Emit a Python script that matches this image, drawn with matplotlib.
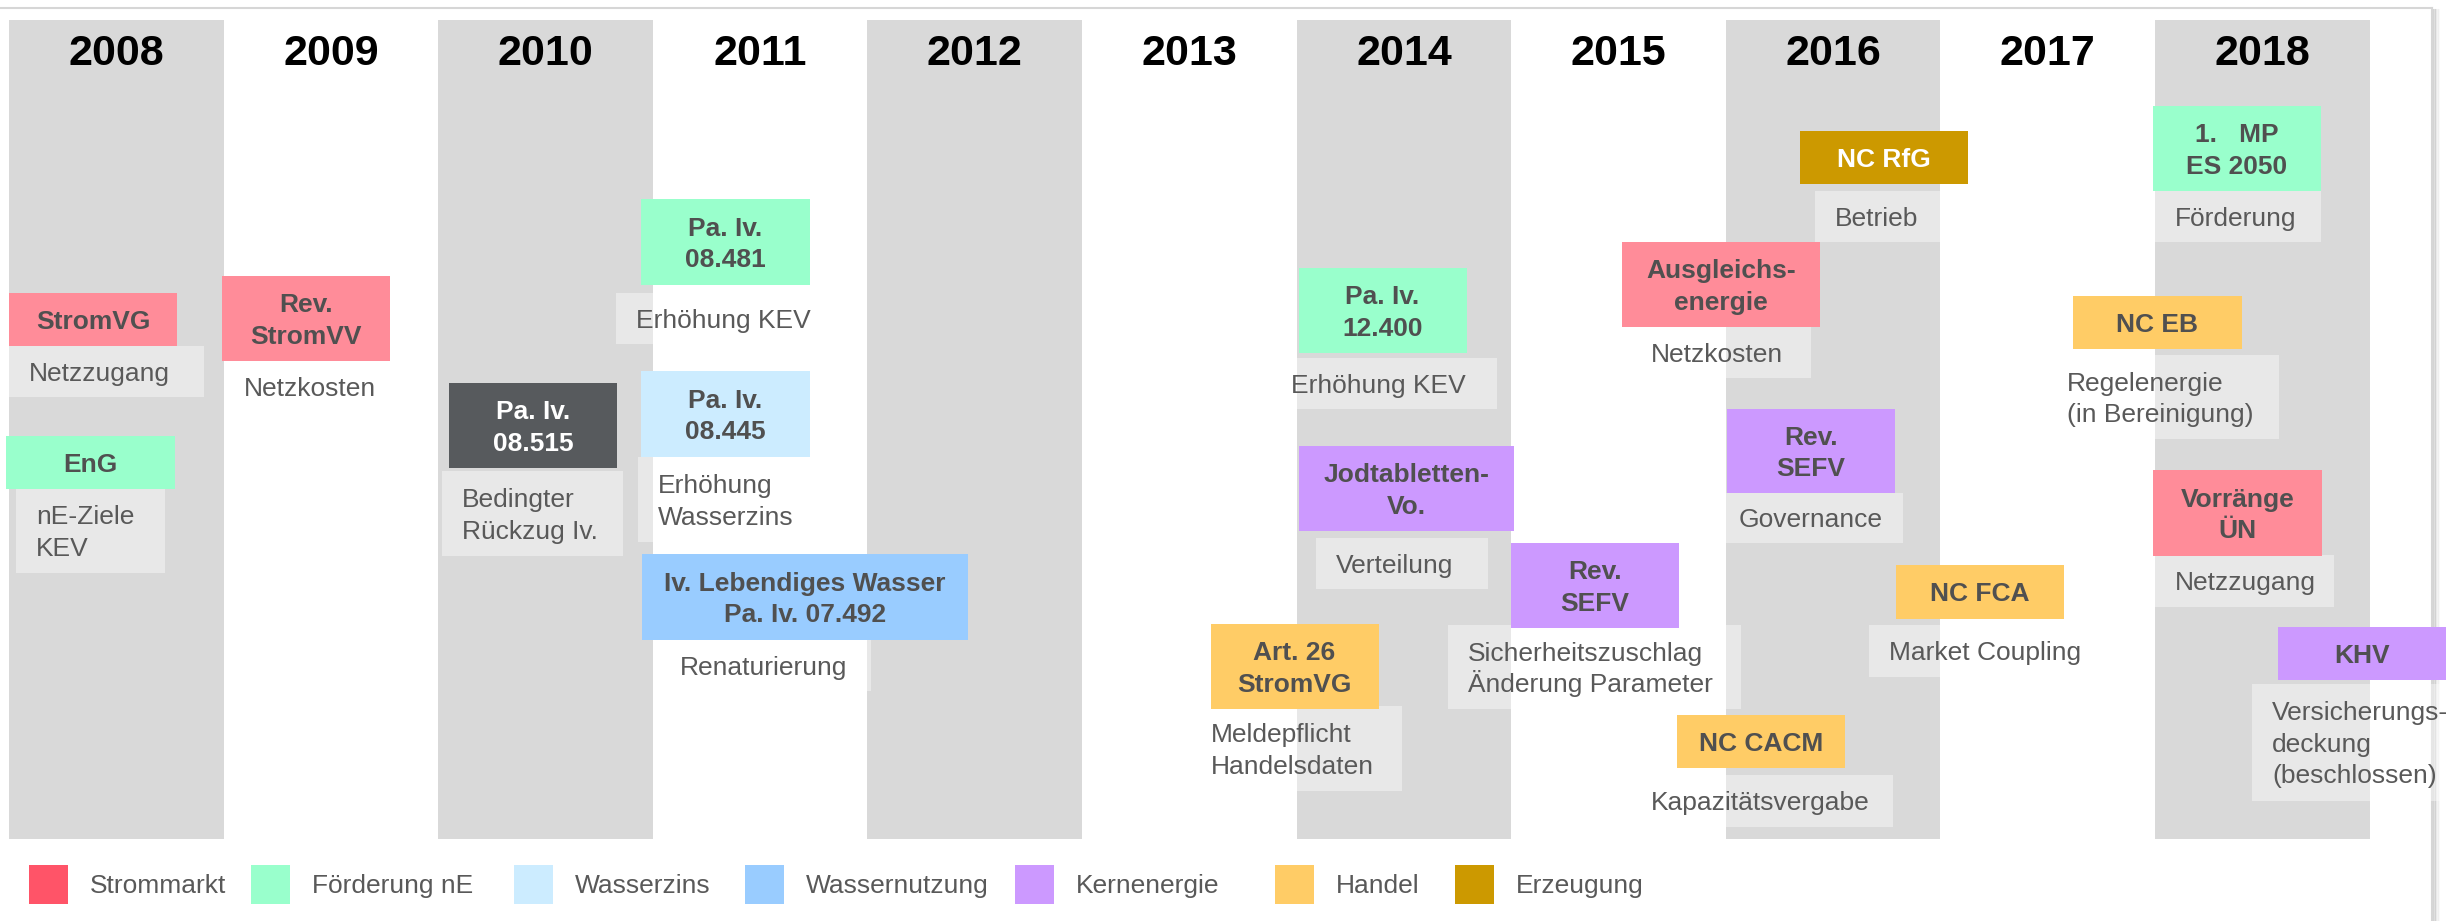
import matplotlib

matplotlib.use('Agg')
import matplotlib.pyplot as plt
from matplotlib.patches import Rectangle

plt.rcParams['font.family'] = ['Liberation Sans', 'DejaVu Sans']

# ============================================================
# Daten
# ============================================================
years = list(range(2008, 2019))

categories = ['Strommarkt', 'Förderung nE', 'Wasserzins', 'Wassernutzung',
              'Kernenergie', 'Handel', 'Erzeugung']
legend_colors = ['#FF5468', '#99FFCC', '#CCECFF', '#99CCFF',
                 '#CC99FF', '#FFCC66', '#CC9900']

ev_year = [2008, 2008, 2009, 2010, 2011, 2011, 2011,
           2014, 2014, 2014, 2015, 2015,
           2016, 2016, 2016, 2016, 2018, 2018, 2018, 2018]
ev_title = ['StromVG', 'EnG', 'Rev.\nStromVV', 'Pa. Iv.\n08.515',
            'Pa. Iv.\n08.481', 'Pa. Iv.\n08.445', 'Iv. Lebendiges Wasser\nPa. Iv. 07.492',
            'Pa. Iv.\n12.400', 'Jodtabletten-\nVo.', 'Art. 26\nStromVG',
            'Rev.\nSEFV', 'Ausgleichs-\nenergie',
            'NC RfG', 'Rev.\nSEFV', 'NC FCA', 'NC CACM',
            '1.   MP\nES 2050', 'NC EB', 'Vorränge\nÜN', 'KHV']
ev_note = ['Netzzugang', 'nE-Ziele\nKEV', 'Netzkosten', 'Bedingter\nRückzug Iv.',
           'Erhöhung KEV', 'Erhöhung\nWasserzins', 'Renaturierung',
           'Erhöhung KEV', 'Verteilung', 'Meldepflicht\nHandelsdaten',
           'Sicherheitszuschlag\nÄnderung Parameter', 'Netzkosten',
           'Betrieb', 'Governance', 'Market Coupling', 'Kapazitätsvergabe',
           'Förderung', 'Regelenergie\n(in Bereinigung)', 'Netzzugang',
           'Versicherungs-\ndeckung\n(beschlossen)']
ev_cat = ['Strommarkt', 'Förderung nE', 'Strommarkt', None,
          'Förderung nE', 'Wasserzins', 'Wassernutzung',
          'Förderung nE', 'Kernenergie', 'Handel',
          'Kernenergie', 'Strommarkt',
          'Erzeugung', 'Kernenergie', 'Handel', 'Handel',
          'Förderung nE', 'Handel', 'Strommarkt', 'Kernenergie']

# ============================================================
# Layout (Pixel, relativ zur linken Spaltenkante)
# ============================================================
COL_W = 214.6
X0 = 9
box_colors = {'Strommarkt': '#FF8C99', 'Förderung nE': '#99FFCC',
              'Wasserzins': '#CCECFF', 'Wassernutzung': '#99CCFF',
              'Kernenergie': '#CC99FF', 'Handel': '#FFCC66',
              'Erzeugung': '#CC9900', None: '#575A5D'}

# (dx, top, w, h)
box_layout = [(0, 293, 168, 53), (-3, 436, 169, 53), (-2, 276, 168, 85),
              (11, 383, 168, 85), (-12, 199, 169, 86), (-12, 371, 169, 86),
              (-11, 554, 326, 86), (2, 268, 168, 85), (2, 446, 215, 85),
              (-86, 624, 168, 85), (0, 543, 168, 85), (111, 242, 198, 85),
              (74, 131, 168, 53), (1, 409, 168, 84), (170, 565, 168, 54),
              (-49, 715, 168, 53), (-2, 106, 168, 85), (-82, 296, 169, 53),
              (-2, 470, 169, 86), (123, 627, 168, 53)]
note_layout = [(0, 346, 195, 51), (7, 488, 149, 85), (0, 361, 190, 51),
               (4, 471, 181, 85), (-37, 293, 210, 51), (-15, 457, 190, 85),
               (7, 640, 211, 51), (-26, 358, 226, 51), (19, 538, 172, 51),
               (-106, 706, 211, 85), (-63, 625, 293, 84), (120, 327, 180, 51),
               (89, 191, 170, 51), (-7, 493, 184, 50), (143, 625, 230, 52),
               (-95, 775, 262, 52), (0, 191, 166, 51), (-108, 355, 232, 84),
               (0, 555, 179, 52), (97, 684, 197, 117)]
legend_x = [29, 251, 514, 745, 1015, 1275, 1455]

LINE_H = 31.5
CAP = 0.716 * 19 * 100 / 72   # Versalhöhe in px bei 19pt
TITLE_COL = '#505050'
NOTE_COL = '#595959'


def px2x(px):
    return 2007.5 + (px - X0) / COL_W


def col_left(year):
    return X0 + (year - 2008) * COL_W


def draw_lines(x, yc, text, **kw):
    # Zeilen einzeln setzen, Grundlinie so, dass die Versalien mittig sitzen
    lines = text.split('\n')
    n = len(lines)
    for i, line in enumerate(lines):
        y = yc + (i - (n - 1) / 2) * LINE_H + CAP / 2
        ax.text(x, y, line, va='baseline', **kw)


fig = plt.figure(figsize=(24.53, 9.21), dpi=100)
ax = fig.add_axes([0, 0, 1, 1])
ax.set_xlim(px2x(0), px2x(2453))
ax.set_ylim(921, 0)
ax.axis('off')

# Rahmen mit Schatten
ax.plot([px2x(0), px2x(2432)], [8, 8], color='#D6D6D6', lw=1.5, zorder=0)
for i, a in enumerate([0.35, 0.25, 0.16, 0.09, 0.04]):
    ax.plot([px2x(2433 + i * 1.5)] * 2, [10, 921], color='#888888', lw=1.5, alpha=a, zorder=0)
ax.plot([px2x(2432)] * 2, [8, 921], color='#D6D6D6', lw=1.5, zorder=0)

# Jahresspalten
ax.bar(years[::2], 819, bottom=20, width=1.0, color='#D9D9D9', zorder=1)
for y in years:
    ax.text(y, 65, str(y), ha='center', va='baseline', fontsize=31,
            weight='bold', color='black', zorder=5)

# Ereignisse
for yr, title, note, cat, bl, nl in zip(ev_year, ev_title, ev_note, ev_cat,
                                        box_layout, note_layout):
    left = col_left(yr)
    ndx, ntop, nw, nh = nl
    ax.add_patch(Rectangle((px2x(left + ndx), ntop), nw / COL_W, nh,
                           facecolor='white', alpha=0.4, lw=0, zorder=2))
    draw_lines(px2x(left + ndx + 20), ntop + nh / 2, note, ha='left',
               fontsize=19, color=NOTE_COL, zorder=4)

    dx, top, w, h = bl
    ax.add_patch(Rectangle((px2x(left + dx), top), w / COL_W, h,
                           facecolor=box_colors[cat], lw=0, zorder=3))
    tcol = 'white' if cat in (None, 'Erzeugung') else TITLE_COL
    draw_lines(px2x(left + dx + w / 2), top + h / 2, title, ha='center',
               fontsize=19, weight='bold', color=tcol, zorder=4)

# Legende
for cat, col, lx in zip(categories, legend_colors, legend_x):
    ax.add_patch(Rectangle((px2x(lx), 864.5), 39 / COL_W, 39,
                           facecolor=col, lw=0, zorder=3))
    ax.text(px2x(lx + 61), 884 + CAP / 2, cat, ha='left', va='baseline',
            fontsize=19, color=NOTE_COL)

plt.savefig('out.png', dpi=100, facecolor='white')
plt.close()
